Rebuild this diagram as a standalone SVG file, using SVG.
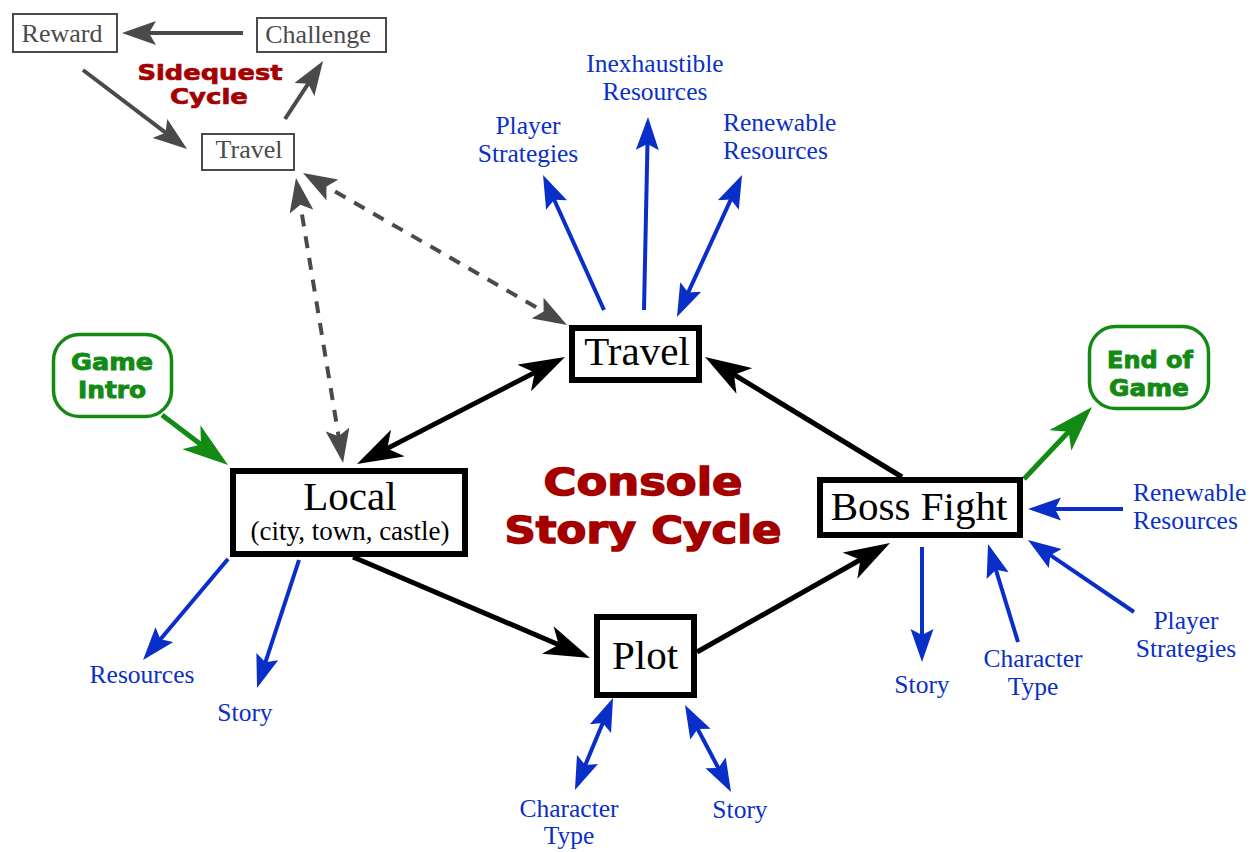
<svg xmlns="http://www.w3.org/2000/svg" width="1257" height="852" viewBox="0 0 1257 852">
<style>
.bg{fill:#ffffff}
.mainbox{fill:#ffffff;stroke:#000000;stroke-width:6}
.smallbox{fill:#ffffff;stroke:#4a4a4a;stroke-width:2}
.greenbox{fill:#ffffff;stroke:#138a13;stroke-width:3.5}
.mainlbl{font-family:"Liberation Serif","Times New Roman",serif;font-size:41px;fill:#000000;text-anchor:middle}
.sublbl{font-family:"Liberation Serif","Times New Roman",serif;font-size:27px;fill:#000000;text-anchor:middle}
.smalllbl{font-family:"Liberation Serif","Times New Roman",serif;font-size:26px;fill:#4a4a4a;text-anchor:middle}
.blue{font-family:"Liberation Serif","Times New Roman",serif;font-size:25.5px;fill:#0a2fc8;text-anchor:middle}
.title{font-family:"DejaVu Sans","Liberation Sans",sans-serif;font-weight:bold;fill:#a50000;stroke:#a50000;stroke-width:1.4;text-anchor:middle}
.stitle{font-family:"DejaVu Sans","Liberation Sans",sans-serif;font-weight:bold;fill:#a50000;stroke:#a50000;stroke-width:0.7;text-anchor:middle}
.gtitle{font-family:"DejaVu Sans","Liberation Sans",sans-serif;font-weight:bold;fill:#138a13;stroke:#138a13;stroke-width:0.9;text-anchor:middle;font-size:23px}
.kline{stroke:#000000;stroke-width:5;fill:none}
.gline{stroke:#138a13;stroke-width:5;fill:none}
.grline{stroke:#4a4a4a;stroke-width:4;fill:none}
.dline{stroke:#4a4a4a;stroke-width:4;fill:none;stroke-dasharray:12 10}
.bline{stroke:#0a2fc8;stroke-width:4;fill:none}
</style>
<defs>
<marker id="mk" viewBox="-46 -15 46 30" refX="-20" refY="0" markerWidth="46" markerHeight="30" markerUnits="userSpaceOnUse" orient="auto-start-reverse">
<path d="M0,0 L-46,-15 L-34,0 L-46,15 Z" fill="#000000"/>
</marker>
<marker id="mg" viewBox="-46 -15 46 30" refX="-20" refY="0" markerWidth="46" markerHeight="30" markerUnits="userSpaceOnUse" orient="auto-start-reverse">
<path d="M0,0 L-46,-15 L-34,0 L-46,15 Z" fill="#138a13"/>
</marker>
<marker id="mgr" viewBox="-34 -12 34 24" refX="-15" refY="0" markerWidth="34" markerHeight="24" markerUnits="userSpaceOnUse" orient="auto-start-reverse">
<path d="M0,0 L-34,-12 L-27,0 L-34,12 Z" fill="#4a4a4a"/>
</marker>
<marker id="mb" viewBox="-33 -12 33 24" refX="-15" refY="0" markerWidth="33" markerHeight="24" markerUnits="userSpaceOnUse" orient="auto-start-reverse">
<path d="M0,0 L-33,-11.5 L-27,0 L-33,11.5 Z" fill="#0a2fc8"/>
</marker>
</defs>
<rect class="bg" x="0" y="0" width="1257" height="852"/>

<g id="connectors">
<line class="kline" x1="374.8" y1="454.9" x2="547.2" y2="366.1" marker-start="url(#mk)" marker-end="url(#mk)"/>
<line class="kline" x1="353" y1="557" x2="571.6" y2="650.2" marker-end="url(#mk)"/>
<line class="kline" x1="697" y1="652" x2="872.6" y2="552.8" marker-end="url(#mk)"/>
<line class="kline" x1="902" y1="477" x2="722.1" y2="367.4" marker-end="url(#mk)"/>
<line class="gline" x1="162" y1="415" x2="212.1" y2="452.9" marker-end="url(#mg)"/>
<line class="gline" x1="1024" y1="479" x2="1078.3" y2="421.5" marker-end="url(#mg)"/>
<line class="grline" x1="243" y1="33" x2="137" y2="33" marker-end="url(#mgr)"/>
<line class="grline" x1="83" y1="70" x2="175.1" y2="139.9" marker-end="url(#mgr)"/>
<line class="grline" x1="285" y1="119" x2="314.8" y2="73.6" marker-end="url(#mgr)"/>
<line class="dline" x1="298.4" y1="192.8" x2="340.6" y2="448.2" marker-start="url(#mgr)" marker-end="url(#mgr)"/>
<line class="dline" x1="316" y1="180.5" x2="554" y2="317.5" marker-start="url(#mgr)" marker-end="url(#mgr)"/>
<line class="bline" x1="604" y1="310" x2="549.2" y2="188.7" marker-end="url(#mb)"/>
<line class="bline" x1="644" y1="310" x2="647.7" y2="132" marker-end="url(#mb)"/>
<line class="bline" x1="683.2" y1="303.4" x2="735.8" y2="188.6" marker-start="url(#mb)" marker-end="url(#mb)"/>
<line class="bline" x1="228" y1="559" x2="152.7" y2="648.5" marker-end="url(#mb)"/>
<line class="bline" x1="299" y1="560" x2="261.7" y2="673.7" marker-end="url(#mb)"/>
<line class="bline" x1="607.3" y1="711.9" x2="580.7" y2="776.1" marker-start="url(#mb)" marker-end="url(#mb)"/>
<line class="bline" x1="692" y1="718.3" x2="724" y2="778.7" marker-start="url(#mb)" marker-end="url(#mb)"/>
<line class="bline" x1="922" y1="547" x2="922" y2="647" marker-end="url(#mb)"/>
<line class="bline" x1="1018" y1="642" x2="992.4" y2="558.3" marker-end="url(#mb)"/>
<line class="bline" x1="1134" y1="612" x2="1040.4" y2="548.4" marker-end="url(#mb)"/>
<line class="bline" x1="1123" y1="509" x2="1043" y2="509" marker-end="url(#mb)"/>
</g>

<g id="sidequest-title">
<text class="stitle" x="210" y="80" font-size="22" textLength="145" lengthAdjust="spacingAndGlyphs">Sidequest</text>
<text class="stitle" x="209" y="104" font-size="22" textLength="78" lengthAdjust="spacingAndGlyphs">Cycle</text>
</g>
<g id="main-title">
<text class="title" x="643" y="495" font-size="37" textLength="199" lengthAdjust="spacingAndGlyphs">Console</text>
<text class="title" x="643" y="543" font-size="37" textLength="277" lengthAdjust="spacingAndGlyphs">Story Cycle</text>
</g>

<g id="reward">
<rect class="smallbox" x="13" y="14" width="104" height="38"/>
<text class="smalllbl" x="62" y="42">Reward</text>
</g>
<g id="challenge">
<rect class="smallbox" x="257" y="18" width="129" height="34"/>
<text class="smalllbl" x="318" y="43">Challenge</text>
</g>
<g id="side-travel">
<rect class="smallbox" x="202" y="134" width="92" height="36"/>
<text class="smalllbl" x="249" y="158">Travel</text>
</g>

<g id="game-intro">
<rect class="greenbox" x="53.5" y="334.5" width="118" height="82" rx="26"/>
<text class="gtitle" x="112" y="370" textLength="82" lengthAdjust="spacingAndGlyphs">Game</text>
<text class="gtitle" x="112" y="398" textLength="68" lengthAdjust="spacingAndGlyphs">Intro</text>
</g>
<g id="end-of-game">
<rect class="greenbox" x="1089.5" y="326.5" width="119" height="82" rx="26"/>
<text class="gtitle" x="1150" y="368" textLength="86" lengthAdjust="spacingAndGlyphs">End of</text>
<text class="gtitle" x="1149" y="396" textLength="80" lengthAdjust="spacingAndGlyphs">Game</text>
</g>

<g id="travel">
<rect class="mainbox" x="572" y="328" width="127" height="52"/>
<text class="mainlbl" x="637" y="365">Travel</text>
</g>
<g id="local">
<rect class="mainbox" x="233" y="471" width="232" height="83"/>
<text class="mainlbl" x="350" y="510">Local</text>
<text class="sublbl" x="350" y="540">(city, town, castle)</text>
</g>
<g id="plot">
<rect class="mainbox" x="597" y="617" width="97" height="78"/>
<text class="mainlbl" x="645" y="669">Plot</text>
</g>
<g id="boss-fight">
<rect class="mainbox" x="820" y="480" width="200" height="55"/>
<text class="mainlbl" x="919" y="520">Boss Fight</text>
</g>

<g id="travel-labels">
<text class="blue" x="528" y="134">Player</text>
<text class="blue" x="528" y="162">Strategies</text>
<text class="blue" x="655" y="72">Inexhaustible</text>
<text class="blue" x="655" y="100">Resources</text>
<text class="blue" x="723" y="131" style="text-anchor:start">Renewable</text>
<text class="blue" x="723" y="159" style="text-anchor:start">Resources</text>
</g>
<g id="local-labels">
<text class="blue" x="142" y="683">Resources</text>
<text class="blue" x="245" y="721">Story</text>
</g>
<g id="plot-labels">
<text class="blue" x="569" y="817">Character</text>
<text class="blue" x="569" y="844">Type</text>
<text class="blue" x="740" y="818">Story</text>
</g>
<g id="boss-labels">
<text class="blue" x="922" y="693">Story</text>
<text class="blue" x="1033" y="667">Character</text>
<text class="blue" x="1033" y="695">Type</text>
<text class="blue" x="1186" y="629">Player</text>
<text class="blue" x="1186" y="657">Strategies</text>
<text class="blue" x="1133" y="501" style="text-anchor:start">Renewable</text>
<text class="blue" x="1133" y="529" style="text-anchor:start">Resources</text>
</g>
</svg>
